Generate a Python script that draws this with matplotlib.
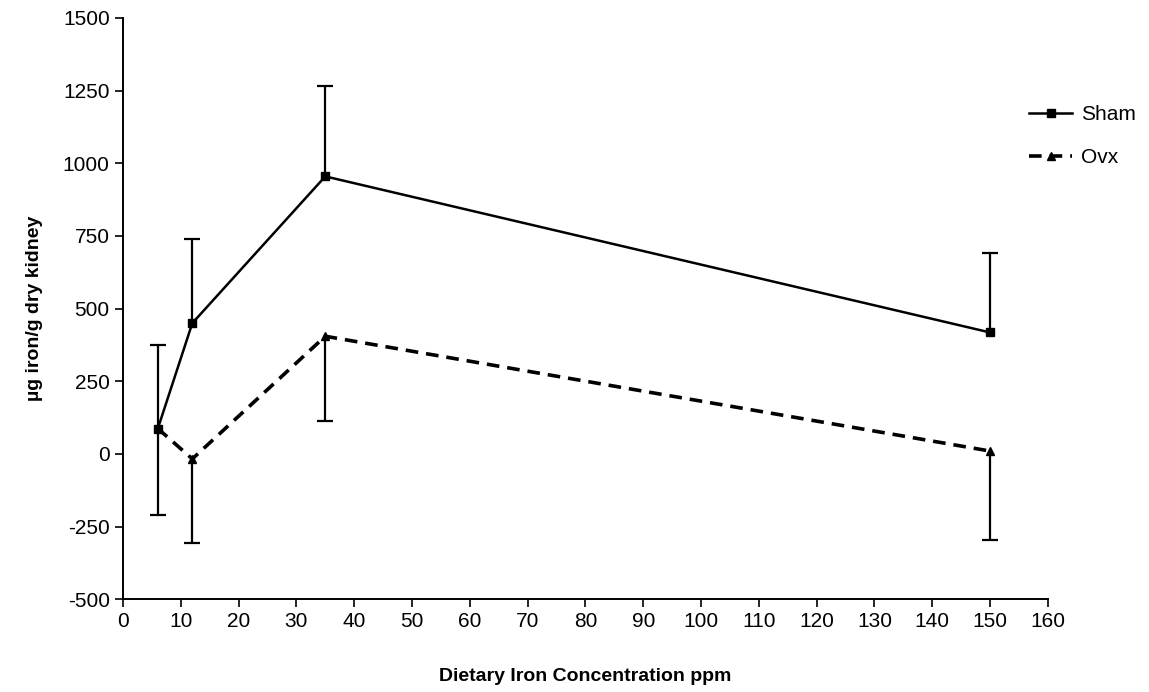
import numpy as np
import matplotlib.pyplot as plt

plt.rcParams['font.family'] = ['Liberation Sans', 'DejaVu Sans']
plt.rcParams['axes.unicode_minus'] = False

conc = [6, 12, 35, 150]
sham = [85, 450, 955, 418]
sham_err = [290, 290, 310, 275]
ovx = [88, -17, 405, 10]
ovx_err = [298, 290, 290, 305]

fig = plt.figure(figsize=(11.49, 6.92), dpi=100)
ax = fig.add_axes([0.107, 0.134, 0.805, 0.84])

ax.plot(conc, sham, color='black', lw=1.8, marker='s', ms=6, label='Sham')
ax.plot(conc, ovx, color='black', lw=2.6, ls=(0, (3.5, 2.2)), marker='^', ms=6, label='Ovx')

# one-sided error bars: Sham upward, Ovx downward
sham_top = np.array(sham) + np.array(sham_err)
ovx_bot = np.array(ovx) - np.array(ovx_err)
ax.vlines(conc, sham, sham_top, color='black', lw=1.6)
ax.vlines(conc, ovx_bot, ovx, color='black', lw=1.6)
ax.plot(conc, sham_top, ls='none', marker='_', ms=12, mew=1.6, color='black')
ax.plot(conc, ovx_bot, ls='none', marker='_', ms=12, mew=1.6, color='black')

ax.set_xlim(0, 160)
ax.set_ylim(-500, 1500)
ax.set_xticks(range(0, 161, 10))
ax.set_yticks(range(-500, 1501, 250))
ax.tick_params(labelsize=15, length=6, width=1.2)
for s in ['top', 'right']:
    ax.spines[s].set_visible(False)
for s in ['left', 'bottom']:
    ax.spines[s].set_linewidth(1.4)

ax.set_xlabel('Dietary Iron Concentration ppm', fontsize=14, fontweight='bold', labelpad=26)
ax.set_ylabel('\u00b5g iron/g dry kidney', fontsize=14, fontweight='bold', labelpad=14)

fig.legend(loc='upper left', bbox_to_anchor=(0.879, 0.875), frameon=False,
           fontsize=15, handlelength=2.1, labelspacing=1.15, handletextpad=0.4)

fig.savefig('out.png', dpi=100)
